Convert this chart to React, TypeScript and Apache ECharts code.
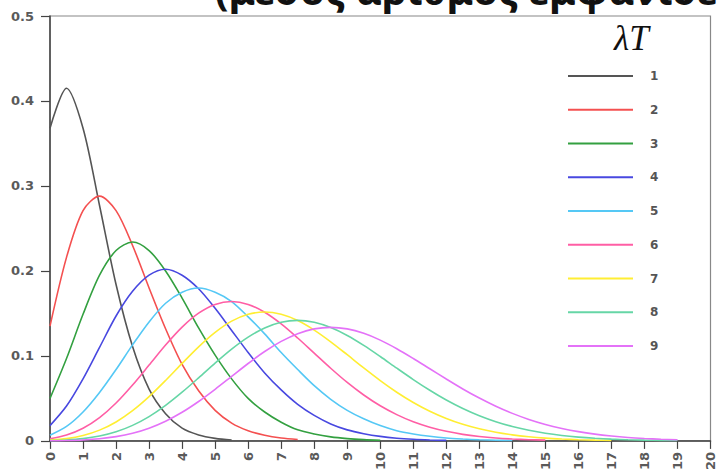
import React, { useEffect, useRef } from "react";
import * as echarts from "echarts";

// x positions (number of occurrences), half steps
const xs = [
  0, 0.5, 1, 1.5, 2, 2.5, 3, 3.5, 4, 4.5, 5, 5.5, 6, 6.5, 7, 7.5, 8, 8.5, 9, 9.5, 10,
  10.5, 11, 11.5, 12, 12.5, 13, 13.5, 14, 14.5, 15, 15.5, 16, 16.5, 17, 17.5, 18, 18.5, 19, 19.5, 20,
];

const lambdaLabels = ["1", "2", "3", "4", "5", "6", "7", "8", "9"];

const p1 = [0.368, 0.415, 0.368, 0.277, 0.184, 0.111, 0.061, 0.032, 0.015, 0.007, 0.003, 0.001];
const p2 = [0.135, 0.216, 0.271, 0.288, 0.271, 0.23, 0.18, 0.132, 0.09, 0.059, 0.036, 0.021, 0.012, 0.0066, 0.0034, 0.0017];
const p3 = [0.05, 0.097, 0.149, 0.195, 0.224, 0.234, 0.224, 0.2, 0.168, 0.133, 0.101, 0.073, 0.05, 0.034, 0.022, 0.013, 0.0081, 0.0047, 0.0027, 0.0015, 0.0008];
const p4 = [0.018, 0.041, 0.073, 0.11, 0.147, 0.176, 0.195, 0.202, 0.195, 0.179, 0.156, 0.13, 0.104, 0.08, 0.06, 0.043, 0.03, 0.02, 0.013, 0.0085, 0.0053, 0.0032, 0.0019, 0.0011, 0.0006];
const p5 = [0.0067, 0.017, 0.034, 0.057, 0.084, 0.113, 0.14, 0.162, 0.175, 0.18, 0.175, 0.164, 0.146, 0.126, 0.104, 0.084, 0.065, 0.049, 0.036, 0.026, 0.018, 0.012, 0.0082, 0.0054, 0.0034, 0.0022, 0.0013, 0.0008, 0.0005];
const p6 = [0.0025, 0.0069, 0.0149, 0.0274, 0.0446, 0.0658, 0.0892, 0.1128, 0.1339, 0.1503, 0.1606, 0.164, 0.1606, 0.1514, 0.1377, 0.1211, 0.1033, 0.0855, 0.0688, 0.054, 0.0413, 0.0309, 0.0225, 0.0161, 0.0113, 0.0077, 0.0052, 0.0034, 0.0022, 0.0014, 0.0009];
const p7 = [0.0009, 0.0027, 0.0064, 0.0127, 0.0223, 0.0356, 0.0521, 0.0711, 0.0912, 0.1107, 0.1277, 0.1409, 0.149, 0.1517, 0.149, 0.1416, 0.1304, 0.1166, 0.1014, 0.0859, 0.071, 0.0573, 0.0452, 0.0349, 0.0264, 0.0195, 0.0142, 0.0101, 0.0071, 0.0049, 0.0033, 0.0022, 0.0014, 0.0009, 0.0006];
const p8 = [0.0003, 0.0011, 0.0027, 0.0057, 0.0107, 0.0183, 0.0286, 0.0418, 0.0573, 0.0742, 0.0916, 0.108, 0.1221, 0.1329, 0.1396, 0.1418, 0.1396, 0.1334, 0.1241, 0.1124, 0.0993, 0.0856, 0.0722, 0.0596, 0.0481, 0.0381, 0.0296, 0.0226, 0.0169, 0.0125, 0.009, 0.0064, 0.0045, 0.0031, 0.0021, 0.0014, 0.0009, 0.0006, 0.0004];
const p9 = [0.0001, 0.0004, 0.0011, 0.0025, 0.005, 0.009, 0.015, 0.0232, 0.0337, 0.0464, 0.0607, 0.0759, 0.0911, 0.1052, 0.1171, 0.1262, 0.1318, 0.1336, 0.1318, 0.1266, 0.1186, 0.1085, 0.097, 0.0849, 0.0728, 0.0611, 0.0504, 0.0408, 0.0324, 0.0253, 0.0194, 0.0147, 0.0109, 0.008, 0.0058, 0.0041, 0.0029, 0.002, 0.0014];

const lineColors = ["#555555", "#f45050", "#33a040", "#4848e0", "#55c8f5", "#ff5ea5", "#ffee33", "#66d6a6", "#e472f8"];

const titleText = "(μέσος αριθμός εμφανίσεων)";
const legendTitle = "λT";

export default function App() {
  const ref = useRef<HTMLDivElement>(null);
  useEffect(() => {
    if (!ref.current) return;
    const chart = echarts.init(ref.current, null, { renderer: "svg" });
    const all = [p1, p2, p3, p4, p5, p6, p7, p8, p9];
    const axisFont = { color: "#5a5a5a", fontSize: 13, fontWeight: "bold" as const, fontFamily: "DejaVu Sans" };
    chart.setOption({
      animation: false,
      backgroundColor: "#ffffff",
      grid: { left: 50, right: 5, top: 16, bottom: 32, show: true, borderColor: "#888", borderWidth: 1.2 },
      xAxis: {
        type: "value",
        min: 0,
        max: 20,
        interval: 1,
        axisLine: { onZero: false, lineStyle: { color: "#444", width: 1.5 } },
        axisTick: { show: true, length: 8, lineStyle: { color: "#444", width: 1.2 } },
        splitLine: { show: false },
        axisLabel: { ...axisFont, rotate: 90, margin: 11 },
      },
      yAxis: {
        type: "value",
        min: 0,
        max: 0.5,
        interval: 0.1,
        axisLine: { show: true, lineStyle: { color: "#444", width: 1.5 } },
        axisTick: { show: true, length: 9, lineStyle: { color: "#444", width: 1.2 } },
        splitLine: { show: false },
        axisLabel: { ...axisFont, margin: 16 },
      },
      legend: {
        orient: "vertical",
        left: 563,
        top: 64,
        icon: "rect",
        itemWidth: 65,
        itemHeight: 2,
        itemGap: 19.75,
        textStyle: { color: "#555", fontSize: 12, fontWeight: "bold", fontFamily: "DejaVu Sans", lineHeight: 14, padding: [0, 0, 0, 12] },
        data: lambdaLabels,
      },
      graphic: [
        {
          type: "text",
          left: 215,
          top: -31,
          silent: true,
          style: { text: titleText, font: 'bold 40px "Noto Sans"', fill: "#111" },
        },
        {
          type: "text",
          left: 614,
          top: 21,
          silent: true,
          style: { text: legendTitle, font: 'italic 35px "Liberation Serif"', fill: "#111" },
        },
      ],
      series: all.map((ys, k) => ({
        name: lambdaLabels[k],
        type: "line",
        data: ys.map((y, i) => [xs[i], y]),
        showSymbol: false,
        symbol: "none",
        smooth: 0.3,
        color: lineColors[k],
        lineStyle: { color: lineColors[k], width: 1.6 },
      })),
    });
    return () => chart.dispose();
  }, []);
  return <div ref={ref} style={{ position: "fixed", left: 0, top: 0, width: 717, height: 473 }} />;
}
